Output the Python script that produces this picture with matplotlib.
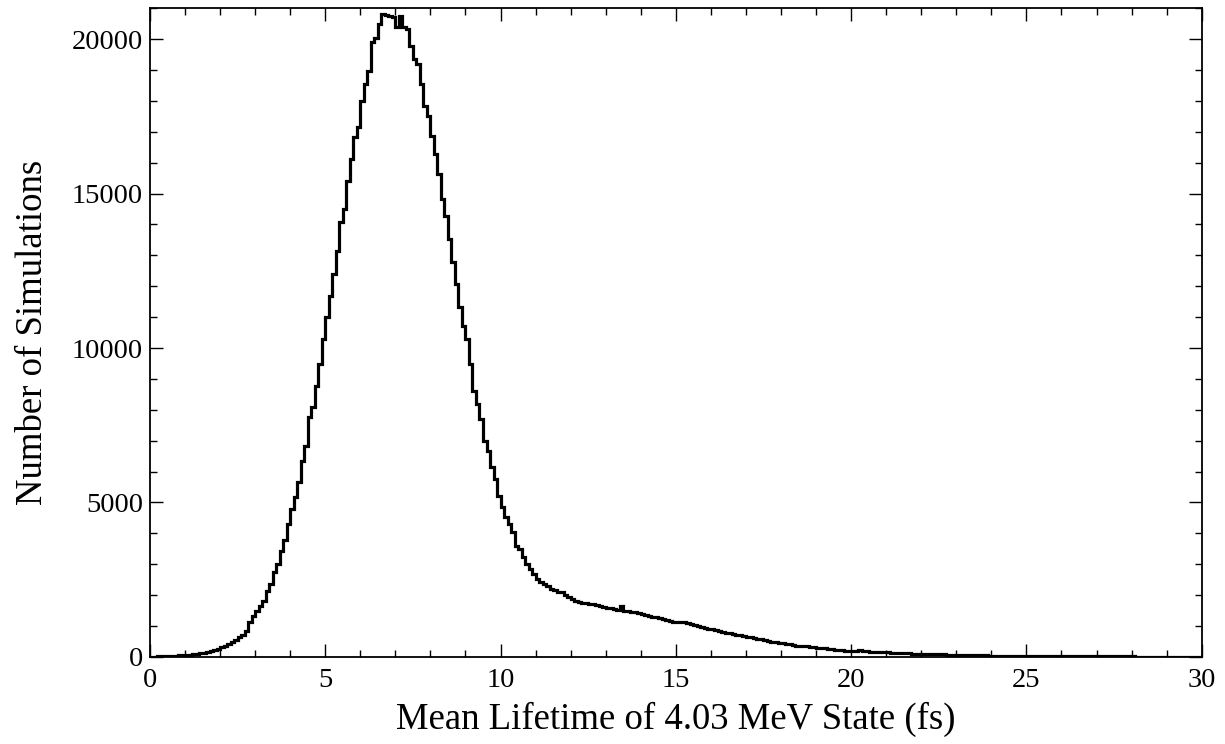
import numpy as np
import matplotlib
matplotlib.use("Agg")
import matplotlib.pyplot as plt
from matplotlib.ticker import MultipleLocator

# histogram of simulated lifetimes, 0.1 fs bins from 0 to 30 fs
bin_width = 0.1
counts = [
    10, 12, 18, 20, 25, 30, 34, 40, 48, 55,
    65, 75, 88, 100, 115, 135, 160, 190, 230, 270,
    310, 370, 430, 480, 560, 640, 720, 850, 1120, 1340,
    1480, 1640, 1820, 2150, 2360, 2740, 3010, 3440, 3770, 4300,
    4790, 5170, 5650, 6350, 6840, 7760, 8080, 8780, 9480, 10290,
    10990, 11690, 12400, 13150, 14070, 14500, 15420, 16120, 16820, 17140,
    18000, 18540, 18980, 19890, 20050, 20490, 20810, 20780, 20750, 20700,
    20400, 20750, 20400, 20330, 19780, 19350, 19190, 18540, 17840, 17520,
    16870, 16280, 15630, 14820, 14280, 13530, 12770, 12070, 11320, 10720,
    10290, 9480, 8620, 8190, 7700, 7000, 6680, 6140, 5760, 5220,
    4840, 4520, 4300, 4030, 3600, 3500, 3230, 3010, 2850, 2690,
    2520, 2440, 2360, 2300, 2200, 2160, 2110, 2090, 2020, 1950,
    1860, 1800, 1780, 1760, 1740, 1720, 1700, 1680, 1640, 1620,
    1600, 1580, 1560, 1530, 1650, 1500, 1490, 1470, 1450, 1430,
    1380, 1350, 1320, 1300, 1280, 1250, 1220, 1180, 1150, 1130,
    1120, 1130, 1120, 1100, 1080, 1050, 1010, 980, 950, 920,
    900, 880, 850, 820, 790, 760, 740, 720, 700, 680,
    660, 640, 610, 590, 570, 550, 530, 500, 470, 450,
    440, 430, 410, 390, 370, 360, 350, 340, 330, 310,
    300, 290, 275, 260, 250, 240, 225, 215, 205, 195,
    185, 200, 210, 205, 190, 175, 165, 160, 155, 150,
    145, 140, 135, 130, 125, 120, 115, 110, 105, 100,
    98, 95, 92, 88, 85, 82, 80, 78, 75, 72,
    68, 65, 62, 58, 55, 52, 50, 48, 47, 46,
    45, 45, 44, 44, 43, 42, 41, 40, 38, 37,
    36, 35, 34, 33, 32, 31, 30, 29, 28, 27,
    26, 25, 25, 24, 23, 22, 22, 21, 20, 20,
    19, 19, 18, 18, 17, 17, 16, 16, 15, 15,
    15, 14, 14, 14, 13, 13, 13, 12, 12, 12,
    11, 11, 11, 11, 10, 10, 10, 10, 9, 9,
]
edges = np.arange(len(counts) + 1) * bin_width

plt.rcParams['font.family'] = ['Liberation Serif', 'DejaVu Serif']

fig = plt.figure(figsize=(12.25, 7.44), dpi=100)
ax = fig.add_axes([0.1224, 0.117, 0.8586, 0.872])

ax.stairs(counts, edges, baseline=None, color='black', linewidth=2.3)

ax.set_xlim(0, 30)
ax.set_ylim(0, 21000)
ax.xaxis.set_major_locator(MultipleLocator(5))
ax.xaxis.set_minor_locator(MultipleLocator(1))
ax.yaxis.set_major_locator(MultipleLocator(5000))
ax.yaxis.set_minor_locator(MultipleLocator(1000))
ax.tick_params(which='both', direction='in', top=True, right=True, width=1.0, labelsize=20.5)
ax.tick_params(which='major', length=9.5)
ax.tick_params(axis='x', which='major', pad=8)
ax.tick_params(axis='y', which='major', pad=5)
ax.tick_params(which='minor', length=5)
for sp in ax.spines.values():
    sp.set_linewidth(1.3)

ax.set_xlabel('Mean Lifetime of 4.03 MeV State (fs)', fontsize=26.5, labelpad=6)
ax.set_ylabel('Number of Simulations', fontsize=26.5, labelpad=16)

fig.savefig('out.png', dpi=100)
